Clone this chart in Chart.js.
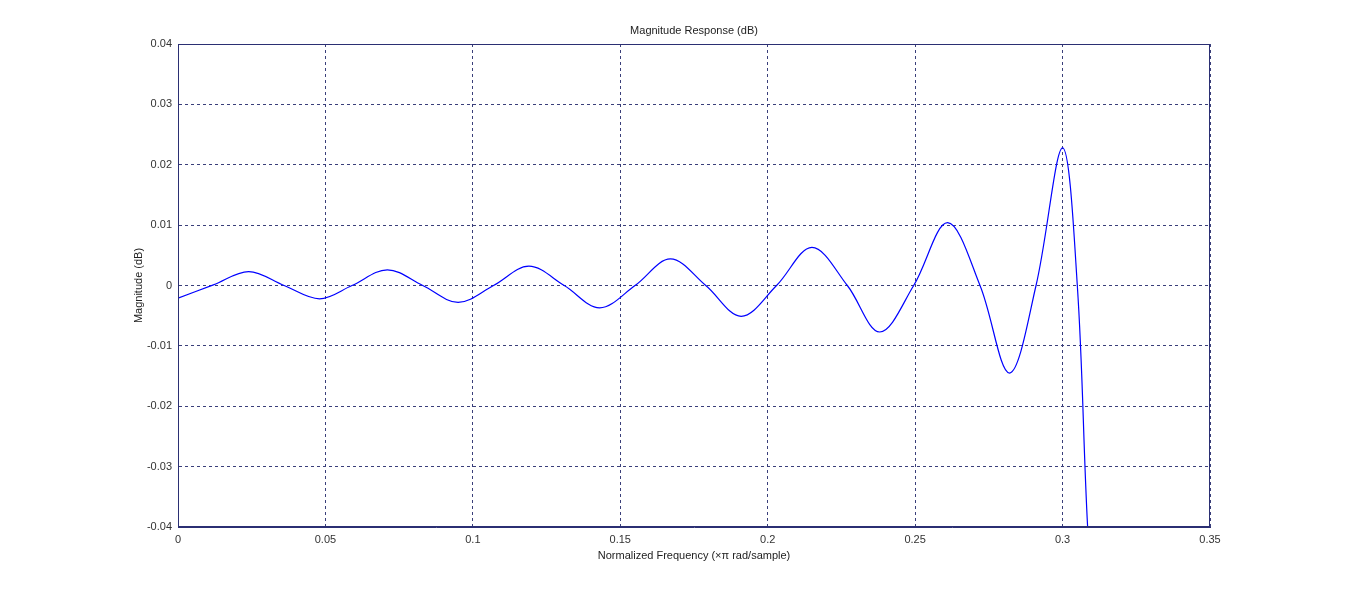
<!DOCTYPE html>
<html>
<head>
<meta charset="utf-8">
<script src="https://cdn.jsdelivr.net/npm/chart.js@4"></script>
<style>
  html, body { margin: 0; padding: 0; background: #fff; }
  #wrap { width: 1366px; height: 593px; }
</style>
</head>
<body>
<div id="wrap"><canvas id="magChart"></canvas></div>
<script>
// Magnitude response data
const freqs = [0, 0.012, 0.024, 0.036, 0.048, 0.059, 0.071, 0.083, 0.095, 0.107, 0.119, 0.131,
               0.143, 0.155, 0.167, 0.179, 0.191, 0.203, 0.215, 0.227, 0.238, 0.2495, 0.261,
               0.272, 0.282, 0.291, 0.300, 0.305, 0.3085, 0.311];
const mags = [-0.0021, 0.0001, 0.0023, 0.0000, -0.0022, 0.0000, 0.0026, 0.0000, -0.0028, 0.0000,
              0.0032, 0.0000, -0.0037, 0.0000, 0.0044, 0.0000, -0.0051, 0.0000, 0.0063, 0.0000,
              -0.0077, 0.0000, 0.0104, 0.0000, -0.0145, 0.0000, 0.0228, 0.0000, -0.0400, -0.0550];
const xTicks = [0, 0.05, 0.1, 0.15, 0.2, 0.25, 0.3, 0.35];
const yTicks = [-0.04, -0.03, -0.02, -0.01, 0, 0.01, 0.02, 0.03, 0.04];

const axisColor = '#2b2f73';
const gridColor = '#3a3f7a';
const font = 'Arial, "Liberation Sans"';

const frameBox = {
    id: 'frameBox',
    afterDraw(chart) {
        const a = chart.chartArea, c = chart.ctx;
        c.save();
        c.strokeStyle = axisColor;
        c.lineWidth = 1;
        c.strokeRect(a.left + 0.5, a.top + 0.5, a.right - a.left - 1, a.bottom - a.top - 1);
        c.fillStyle = '#222';
        c.font = '11px ' + font;
        c.textAlign = 'center';
        c.textBaseline = 'middle';
        c.fillText('Magnitude Response (dB)', (a.left + a.right) / 2, 31);
        c.restore();
    }
};

new Chart(document.getElementById('magChart'), {
    type: 'line',
    data: {
        datasets: [{
            data: freqs.map((f, i) => ({ x: f, y: mags[i] })),
            borderColor: '#0000ff',
            borderWidth: 1.2,
            pointRadius: 0,
            fill: false,
            tension: 0.35
        }]
    },
    options: {
        responsive: true,
        maintainAspectRatio: false,
        animation: false,
        layout: { padding: { left: 128, right: 156, top: 44, bottom: 30 } },
        plugins: {
            legend: { display: false },
            tooltip: { enabled: false }
        },
        scales: {
            x: {
                type: 'linear',
                min: 0, max: 0.35,
                afterBuildTicks: s => { s.ticks = xTicks.map(v => ({ value: v })); },
                afterFit: s => { s.height = 36; },
                ticks: { color: '#333', font: { family: font, size: 11 }, padding: 6,
                         maxRotation: 0, callback: v => String(+v.toFixed(2)) },
                grid: { color: gridColor, drawTicks: false },
                border: { display: true, color: axisColor, dash: [3, 3] },
                title: { display: true, text: 'Normalized Frequency (×π rad/sample)', color: '#222',
                         font: { family: font, size: 11 }, padding: { top: 2, bottom: 0 } }
            },
            y: {
                type: 'linear',
                min: -0.04, max: 0.04,
                afterBuildTicks: s => { s.ticks = yTicks.map(v => ({ value: v })); },
                afterFit: s => { s.width = 50; },
                ticks: { color: '#333', font: { family: font, size: 11 }, padding: 6,
                         callback: v => String(+v.toFixed(2)) },
                grid: { color: gridColor, drawTicks: false },
                border: { display: true, color: axisColor, dash: [3, 3] },
                title: { display: true, text: 'Magnitude (dB)', color: '#222',
                         font: { family: font, size: 11 }, padding: { bottom: 0 } }
            }
        }
    },
    plugins: [frameBox]
});
</script>
</body>
</html>
